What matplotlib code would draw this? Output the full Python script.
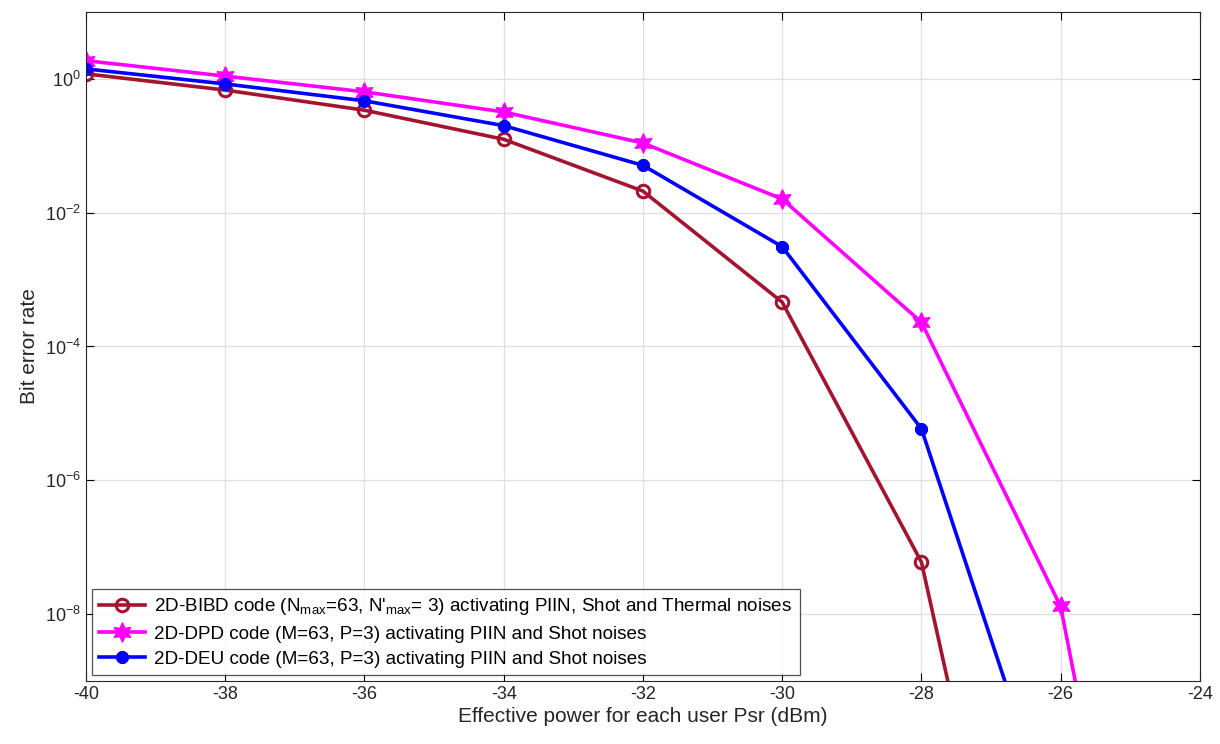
import numpy as np
import matplotlib.pyplot as plt

plt.rcParams['font.family'] = ['Liberation Sans', 'DejaVu Sans']
plt.rcParams['axes.unicode_minus'] = False

power = [-40, -38, -36, -34, -32, -30, -28, -26, -24]
ber_bibd = [1.19, 0.68, 0.34, 0.125, 0.021, 4.6e-4, 6e-8, 2.5e-17, np.nan]
ber_dpd = [1.87, 1.1, 0.64, 0.32, 0.11, 0.016, 2.3e-4, 1.3e-8, 3e-19]
ber_deu = [1.41, 0.84, 0.47, 0.2, 0.051, 3.1e-3, 5.9e-6, 3e-12, np.nan]

labels = [
    "2D-BIBD code (N$_{\\mathregular{max}}$=63, N'$_{\\mathregular{max}}$= 3) activating PIIN, Shot and Thermal noises",
    "2D-DPD code (M=63, P=3) activating PIIN and Shot noises",
    "2D-DEU code (M=63, P=3) activating PIIN and Shot noises",
]

fig = plt.figure(figsize=(12.2, 7.44), dpi=100)
ax = fig.add_axes([0.0705, 0.0847, 0.913, 0.8992])

ax.semilogy(power, ber_bibd, color='#a2142f', lw=2.6, marker='o', ms=9,
            mfc='none', mew=2.2, label=labels[0])
ax.semilogy(power, ber_dpd, color='#ff00ff', lw=2.6, marker=(6, 1, 0), ms=14,
            mfc='#ff00ff', mew=1, label=labels[1])
ax.semilogy(power, ber_deu, color='#0000ff', lw=2.6, marker=(8, 2, 0), ms=9,
            mfc='#0000ff', mew=3, label=labels[2])

ax.set_xlim(-40, -24)
ax.set_ylim(1e-9, 1e1)
ax.set_xticks(np.arange(-40, -23, 2))
ax.set_yticks([1e-8, 1e-6, 1e-4, 1e-2, 1e0])
ax.yaxis.set_minor_locator(plt.NullLocator())
ax.grid(True, color='#e0e0e0', lw=0.9)
ax.tick_params(direction='in', labelsize=13, length=6, top=True, right=True,
               labelcolor='#262626')
for s in ax.spines.values():
    s.set_color('#262626')
ax.set_xlabel('Effective power for each user Psr (dBm)', fontsize=15, labelpad=3,
              color='#262626')
ax.set_ylabel('Bit error rate', fontsize=15, color='#262626')

leg = ax.legend(loc='lower left', fontsize=13.6, frameon=True, fancybox=False,
                edgecolor='#262626', handlelength=2.4, borderaxespad=0.3,
                labelspacing=0.42, handletextpad=0.5)
leg.get_frame().set_linewidth(0.9)

fig.savefig('out.png', dpi=100)
